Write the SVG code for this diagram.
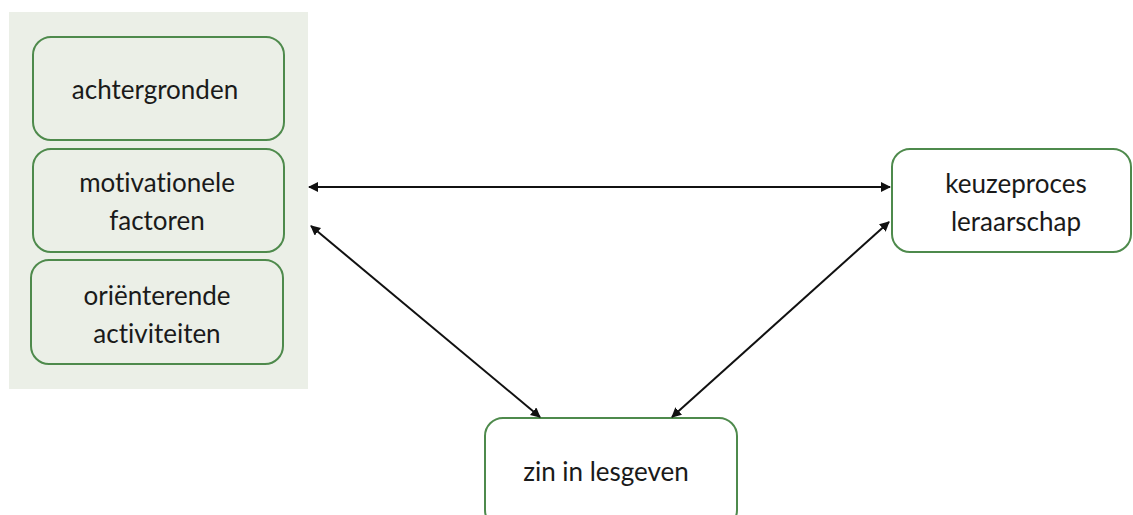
<svg xmlns="http://www.w3.org/2000/svg" width="1133" height="515" viewBox="0 0 1133 515">
<style>
.box{fill:#EBEFE7;stroke:#4E8A4C;stroke-width:2}
.wbox{fill:#FFFFFF;stroke:#4E8A4C;stroke-width:2}
.t{font-family:Lato,"Open Sans",sans-serif;font-size:26px;fill:#1A1A1A;text-anchor:middle;font-variant-ligatures:none}
.c{stroke:#111;stroke-width:2;fill:none;marker-start:url(#ah);marker-end:url(#ah)}
</style>
<defs>
<marker id="ah" viewBox="0 0 10 10" refX="9" refY="5" markerWidth="5" markerHeight="5" orient="auto-start-reverse" markerUnits="strokeWidth">
<path d="M0,0 L10,5 L0,10 z" fill="#111"/>
</marker>
</defs>
<rect x="0" y="0" width="1133" height="515" fill="#FFFFFF"/>
<rect id="panel" x="9" y="12" width="299" height="377" fill="#EBEFE7"/>
<g id="achtergronden">
<rect class="box" x="33" y="37" width="251" height="103" rx="18"/>
<text class="t" x="155" y="99">achtergronden</text>
</g>
<g id="motivationele">
<rect class="box" x="33" y="149" width="251" height="103" rx="18"/>
<text class="t" x="157" y="192">motivationele</text>
<text class="t" x="157" y="230">factoren</text>
</g>
<g id="orienterende">
<rect class="box" x="31" y="260" width="252" height="104" rx="18"/>
<text class="t" x="157" y="305">oriënterende</text>
<text class="t" x="157" y="343">activiteiten</text>
</g>
<g id="keuzeproces">
<rect class="wbox" x="892" y="149" width="239" height="103" rx="18"/>
<text class="t" x="1016" y="193">keuzeproces</text>
<text class="t" x="1016" y="231">leraarschap</text>
</g>
<g id="zin">
<rect class="wbox" x="485" y="418" width="252" height="110" rx="18"/>
<text class="t" x="606" y="481">zin in lesgeven</text>
</g>
<g id="connectors">
<line class="c" x1="309" y1="187" x2="890" y2="187"/>
<line class="c" x1="311" y1="226" x2="540" y2="417"/>
<line class="c" x1="672" y1="417" x2="889" y2="222"/>
</g>
</svg>
